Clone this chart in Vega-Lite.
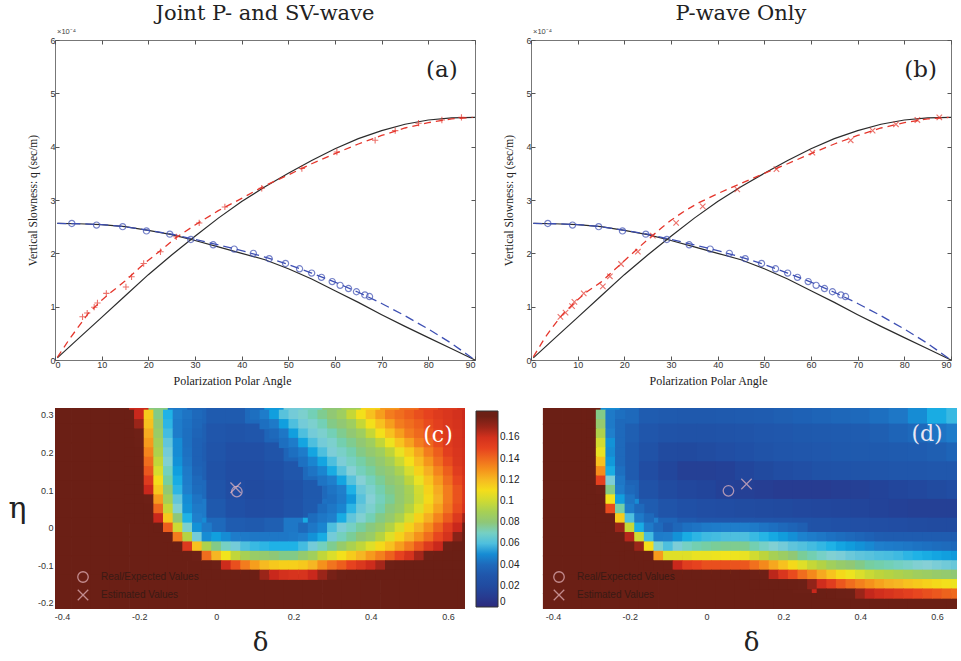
{
"$schema":"https://vega.github.io/schema/vega-lite/v6.json",
"background":"white",
"padding":{"left":8,"top":2,"right":0,"bottom":0},
"config":{
 "font":"Liberation Sans",
 "locale":{"number":{"decimal":".","thousands":",","grouping":[3],"currency":["$",""],"minus":"-"}},
 "axis":{"labelFont":"Liberation Sans","labelFontSize":9,"labelColor":"#333","titleFont":"Liberation Serif","titleFontWeight":"normal","titleColor":"#222","grid":false,"tickColor":"#555"},
 "title":{"font":"DejaVu Serif","fontWeight":"normal","fontSize":21,"color":"#222"}
},
"datasets":{
 "blk":[{"s":"P","x":0.5,"y":0.04},{"s":"P","x":5,"y":0.4},{"s":"P","x":10,"y":0.8},{"s":"P","x":15,"y":1.2},{"s":"P","x":20,"y":1.6},{"s":"P","x":25,"y":1.97},{"s":"P","x":30,"y":2.32},{"s":"P","x":35,"y":2.66},{"s":"P","x":40,"y":2.97},{"s":"P","x":45,"y":3.25},{"s":"P","x":50,"y":3.5},{"s":"P","x":55,"y":3.74},{"s":"P","x":60,"y":3.96},{"s":"P","x":65,"y":4.15},{"s":"P","x":70,"y":4.3},{"s":"P","x":75,"y":4.42},{"s":"P","x":80,"y":4.5},{"s":"P","x":85,"y":4.54},{"s":"P","x":90,"y":4.55},
  {"s":"S","x":0.5,"y":2.56},{"s":"S","x":5,"y":2.555},{"s":"S","x":10,"y":2.54},{"s":"S","x":15,"y":2.5},{"s":"S","x":20,"y":2.43},{"s":"S","x":25,"y":2.35},{"s":"S","x":30,"y":2.24},{"s":"S","x":35,"y":2.12},{"s":"S","x":40,"y":2.0},{"s":"S","x":45,"y":1.88},{"s":"S","x":50,"y":1.71},{"s":"S","x":55,"y":1.52},{"s":"S","x":60,"y":1.3},{"s":"S","x":65,"y":1.08},{"s":"S","x":70,"y":0.85},{"s":"S","x":75,"y":0.63},{"s":"S","x":80,"y":0.42},{"s":"S","x":85,"y":0.21},{"s":"S","x":90,"y":0.0}],
 "sf":[{"x":0.5,"y":2.56},{"x":5,"y":2.555},{"x":10,"y":2.54},{"x":15,"y":2.5},{"x":20,"y":2.43},{"x":25,"y":2.36},{"x":30,"y":2.26},{"x":35,"y":2.16},{"x":40,"y":2.05},{"x":45,"y":1.93},{"x":50,"y":1.79},{"x":55,"y":1.63},{"x":60,"y":1.46},{"x":65,"y":1.27},{"x":70,"y":1.06},{"x":75,"y":0.83},{"x":80,"y":0.58},{"x":85,"y":0.31},{"x":89.5,"y":0.03}],
 "pfa":[{"x":0.5,"y":0.05},{"x":3,"y":0.38},{"x":5,"y":0.62},{"x":7,"y":0.86},{"x":10,"y":1.12},{"x":12,"y":1.27},{"x":15,"y":1.48},{"x":18,"y":1.72},{"x":20,"y":1.87},{"x":23,"y":2.08},{"x":26,"y":2.3},{"x":30,"y":2.53},{"x":35,"y":2.8},{"x":40,"y":3.03},{"x":45,"y":3.27},{"x":50,"y":3.47},{"x":55,"y":3.68},{"x":60,"y":3.87},{"x":65,"y":4.05},{"x":70,"y":4.21},{"x":75,"y":4.35},{"x":80,"y":4.45},{"x":85,"y":4.52},{"x":89.5,"y":4.55}],
 "pfb":[{"x":0.5,"y":0.06},{"x":3,"y":0.42},{"x":5,"y":0.66},{"x":7,"y":0.88},{"x":10,"y":1.13},{"x":12,"y":1.28},{"x":15,"y":1.46},{"x":18,"y":1.7},{"x":20,"y":1.86},{"x":22,"y":2.02},{"x":25,"y":2.26},{"x":28,"y":2.48},{"x":30,"y":2.62},{"x":33,"y":2.8},{"x":36,"y":2.95},{"x":40,"y":3.12},{"x":45,"y":3.31},{"x":50,"y":3.5},{"x":55,"y":3.68},{"x":60,"y":3.87},{"x":65,"y":4.05},{"x":70,"y":4.21},{"x":75,"y":4.35},{"x":80,"y":4.45},{"x":85,"y":4.52},{"x":89.5,"y":4.55}],
 "rpa":[{"x":5.9,"y":0.81},{"x":6.9,"y":0.88},{"x":8.4,"y":0.99},{"x":9.1,"y":1.07},{"x":11,"y":1.25},{"x":15.2,"y":1.37},{"x":16.4,"y":1.56},{"x":19,"y":1.81},{"x":22.6,"y":2.03},{"x":26,"y":2.31},{"x":30.9,"y":2.57},{"x":36.4,"y":2.87},{"x":44.3,"y":3.22},{"x":52.9,"y":3.59},{"x":60.4,"y":3.9},{"x":68.6,"y":4.12},{"x":72.9,"y":4.3},{"x":77.9,"y":4.44},{"x":82.9,"y":4.5},{"x":87.1,"y":4.55}],
 "rpb":[{"x":6.3,"y":0.81},{"x":7.4,"y":0.89},{"x":8.8,"y":1.01},{"x":9.3,"y":1.09},{"x":11.3,"y":1.25},{"x":15.4,"y":1.38},{"x":16.9,"y":1.57},{"x":19.3,"y":1.8},{"x":22.9,"y":2.03},{"x":26.1,"y":2.33},{"x":31.1,"y":2.57},{"x":36.8,"y":2.88},{"x":44.2,"y":3.2},{"x":52.6,"y":3.58},{"x":60.3,"y":3.89},{"x":68.5,"y":4.12},{"x":73.2,"y":4.3},{"x":78.2,"y":4.42},{"x":82.8,"y":4.5},{"x":87.5,"y":4.55}],
 "bc":[{"x":3.6,"y":2.56},{"x":8.9,"y":2.53},{"x":14.5,"y":2.5},{"x":19.6,"y":2.42},{"x":24.6,"y":2.36},{"x":29.1,"y":2.26},{"x":33.9,"y":2.16},{"x":38.4,"y":2.08},{"x":42.5,"y":2.0},{"x":45.9,"y":1.9},{"x":49.4,"y":1.81},{"x":52.4,"y":1.71},{"x":55,"y":1.63},{"x":57.1,"y":1.55},{"x":59.4,"y":1.47},{"x":61.1,"y":1.4},{"x":62.9,"y":1.34},{"x":64.6,"y":1.28},{"x":66.4,"y":1.22},{"x":67.4,"y":1.19}],
 "la":[{"x":82.9,"y":5.44,"t":"(a)"}],
 "lb":[{"x":83.5,"y":5.44,"t":"(b)"}],
 "ex":[{"x":0,"y":6,"t":"×10⁻⁴"}],
 "mc":[{"d":0.053,"e":0.096,"k":"Real/Expected Values"},{"d":0.05,"e":0.106,"k":"Estimated Values"}],
 "md":[{"d":0.057,"e":0.098,"k":"Real/Expected Values"},{"d":0.104,"e":0.116,"k":"Estimated Values"}],
 "lc":[{"d":0.574,"e":0.247,"t":"(c)"}],
 "ld":[{"d":0.574,"e":0.25,"t":"(d)"}],
 "hc":[
{"d":-0.4,"e":0.3,"v":0.185},{"d":-0.35,"e":0.3,"v":0.185},{"d":-0.3,"e":0.3,"v":0.185},{"d":-0.25,"e":0.3,"v":0.185},{"d":-0.2,"e":0.3,"v":0.164},{"d":-0.15,"e":0.3,"v":0.079},{"d":-0.1,"e":0.3,"v":0.046},{"d":-0.05,"e":0.3,"v":0.038},{"d":0,"e":0.3,"v":0.034},{"d":0.05,"e":0.3,"v":0.034},{"d":0.1,"e":0.3,"v":0.04},{"d":0.15,"e":0.3,"v":0.052},{"d":0.2,"e":0.3,"v":0.064},{"d":0.25,"e":0.3,"v":0.07},{"d":0.3,"e":0.3,"v":0.08},{"d":0.35,"e":0.3,"v":0.088},{"d":0.4,"e":0.3,"v":0.112},{"d":0.45,"e":0.3,"v":0.128},{"d":0.5,"e":0.3,"v":0.138},{"d":0.55,"e":0.3,"v":0.148},{"d":0.6,"e":0.3,"v":0.155},{"d":0.65,"e":0.3,"v":0.16},
{"d":-0.4,"e":0.25,"v":0.185},{"d":-0.35,"e":0.25,"v":0.185},{"d":-0.3,"e":0.25,"v":0.185},{"d":-0.25,"e":0.25,"v":0.185},{"d":-0.2,"e":0.25,"v":0.172},{"d":-0.15,"e":0.25,"v":0.085},{"d":-0.1,"e":0.25,"v":0.048},{"d":-0.05,"e":0.25,"v":0.036},{"d":0,"e":0.25,"v":0.03},{"d":0.05,"e":0.25,"v":0.028},{"d":0.1,"e":0.25,"v":0.03},{"d":0.15,"e":0.25,"v":0.038},{"d":0.2,"e":0.25,"v":0.052},{"d":0.25,"e":0.25,"v":0.062},{"d":0.3,"e":0.25,"v":0.07},{"d":0.35,"e":0.25,"v":0.078},{"d":0.4,"e":0.25,"v":0.088},{"d":0.45,"e":0.25,"v":0.11},{"d":0.5,"e":0.25,"v":0.128},{"d":0.55,"e":0.25,"v":0.14},{"d":0.6,"e":0.25,"v":0.15},{"d":0.65,"e":0.25,"v":0.158},
{"d":-0.4,"e":0.2,"v":0.185},{"d":-0.35,"e":0.2,"v":0.185},{"d":-0.3,"e":0.2,"v":0.185},{"d":-0.25,"e":0.2,"v":0.185},{"d":-0.2,"e":0.2,"v":0.18},{"d":-0.15,"e":0.2,"v":0.093},{"d":-0.1,"e":0.2,"v":0.05},{"d":-0.05,"e":0.2,"v":0.035},{"d":0,"e":0.2,"v":0.028},{"d":0.05,"e":0.2,"v":0.024},{"d":0.1,"e":0.2,"v":0.024},{"d":0.15,"e":0.2,"v":0.028},{"d":0.2,"e":0.2,"v":0.038},{"d":0.25,"e":0.2,"v":0.054},{"d":0.3,"e":0.2,"v":0.063},{"d":0.35,"e":0.2,"v":0.07},{"d":0.4,"e":0.2,"v":0.082},{"d":0.45,"e":0.2,"v":0.088},{"d":0.5,"e":0.2,"v":0.113},{"d":0.55,"e":0.2,"v":0.133},{"d":0.6,"e":0.2,"v":0.148},{"d":0.65,"e":0.2,"v":0.158},
{"d":-0.4,"e":0.15,"v":0.185},{"d":-0.35,"e":0.15,"v":0.185},{"d":-0.3,"e":0.15,"v":0.185},{"d":-0.25,"e":0.15,"v":0.185},{"d":-0.2,"e":0.15,"v":0.185},{"d":-0.15,"e":0.15,"v":0.103},{"d":-0.1,"e":0.15,"v":0.052},{"d":-0.05,"e":0.15,"v":0.036},{"d":0,"e":0.15,"v":0.026},{"d":0.05,"e":0.15,"v":0.022},{"d":0.1,"e":0.15,"v":0.022},{"d":0.15,"e":0.15,"v":0.025},{"d":0.2,"e":0.15,"v":0.03},{"d":0.25,"e":0.15,"v":0.04},{"d":0.3,"e":0.15,"v":0.055},{"d":0.35,"e":0.15,"v":0.064},{"d":0.4,"e":0.15,"v":0.072},{"d":0.45,"e":0.15,"v":0.083},{"d":0.5,"e":0.15,"v":0.09},{"d":0.55,"e":0.15,"v":0.118},{"d":0.6,"e":0.15,"v":0.138},{"d":0.65,"e":0.15,"v":0.152},
{"d":-0.4,"e":0.1,"v":0.185},{"d":-0.35,"e":0.1,"v":0.185},{"d":-0.3,"e":0.1,"v":0.185},{"d":-0.25,"e":0.1,"v":0.185},{"d":-0.2,"e":0.1,"v":0.185},{"d":-0.15,"e":0.1,"v":0.117},{"d":-0.1,"e":0.1,"v":0.057},{"d":-0.05,"e":0.1,"v":0.04},{"d":0,"e":0.1,"v":0.028},{"d":0.05,"e":0.1,"v":0.022},{"d":0.1,"e":0.1,"v":0.02},{"d":0.15,"e":0.1,"v":0.022},{"d":0.2,"e":0.1,"v":0.026},{"d":0.25,"e":0.1,"v":0.032},{"d":0.3,"e":0.1,"v":0.04},{"d":0.35,"e":0.1,"v":0.052},{"d":0.4,"e":0.1,"v":0.066},{"d":0.45,"e":0.1,"v":0.075},{"d":0.5,"e":0.1,"v":0.086},{"d":0.55,"e":0.1,"v":0.11},{"d":0.6,"e":0.1,"v":0.135},{"d":0.65,"e":0.1,"v":0.155},
{"d":-0.4,"e":0.05,"v":0.185},{"d":-0.35,"e":0.05,"v":0.185},{"d":-0.3,"e":0.05,"v":0.185},{"d":-0.25,"e":0.05,"v":0.185},{"d":-0.2,"e":0.05,"v":0.185},{"d":-0.15,"e":0.05,"v":0.141},{"d":-0.1,"e":0.05,"v":0.066},{"d":-0.05,"e":0.05,"v":0.046},{"d":0,"e":0.05,"v":0.032},{"d":0.05,"e":0.05,"v":0.025},{"d":0.1,"e":0.05,"v":0.022},{"d":0.15,"e":0.05,"v":0.023},{"d":0.2,"e":0.05,"v":0.027},{"d":0.25,"e":0.05,"v":0.033},{"d":0.3,"e":0.05,"v":0.043},{"d":0.35,"e":0.05,"v":0.055},{"d":0.4,"e":0.05,"v":0.066},{"d":0.45,"e":0.05,"v":0.076},{"d":0.5,"e":0.05,"v":0.087},{"d":0.55,"e":0.05,"v":0.112},{"d":0.6,"e":0.05,"v":0.138},{"d":0.65,"e":0.05,"v":0.158},
{"d":-0.4,"e":0,"v":0.185},{"d":-0.35,"e":0,"v":0.185},{"d":-0.3,"e":0,"v":0.185},{"d":-0.25,"e":0,"v":0.185},{"d":-0.2,"e":0,"v":0.185},{"d":-0.15,"e":0,"v":0.185},{"d":-0.1,"e":0,"v":0.1},{"d":-0.05,"e":0,"v":0.05},{"d":0,"e":0,"v":0.04},{"d":0.05,"e":0,"v":0.035},{"d":0.1,"e":0,"v":0.033},{"d":0.15,"e":0,"v":0.036},{"d":0.2,"e":0,"v":0.045},{"d":0.25,"e":0,"v":0.055},{"d":0.3,"e":0,"v":0.064},{"d":0.35,"e":0,"v":0.075},{"d":0.4,"e":0,"v":0.083},{"d":0.45,"e":0,"v":0.1},{"d":0.5,"e":0,"v":0.113},{"d":0.55,"e":0,"v":0.135},{"d":0.6,"e":0,"v":0.155},{"d":0.65,"e":0,"v":0.175},
{"d":-0.4,"e":-0.05,"v":0.185},{"d":-0.35,"e":-0.05,"v":0.185},{"d":-0.3,"e":-0.05,"v":0.185},{"d":-0.25,"e":-0.05,"v":0.185},{"d":-0.2,"e":-0.05,"v":0.185},{"d":-0.15,"e":-0.05,"v":0.185},{"d":-0.1,"e":-0.05,"v":0.185},{"d":-0.05,"e":-0.05,"v":0.14},{"d":0,"e":-0.05,"v":0.078},{"d":0.05,"e":-0.05,"v":0.065},{"d":0.1,"e":-0.05,"v":0.059},{"d":0.15,"e":-0.05,"v":0.056},{"d":0.2,"e":-0.05,"v":0.057},{"d":0.25,"e":-0.05,"v":0.064},{"d":0.3,"e":-0.05,"v":0.075},{"d":0.35,"e":-0.05,"v":0.09},{"d":0.4,"e":-0.05,"v":0.105},{"d":0.45,"e":-0.05,"v":0.118},{"d":0.5,"e":-0.05,"v":0.135},{"d":0.55,"e":-0.05,"v":0.155},{"d":0.6,"e":-0.05,"v":0.175},{"d":0.65,"e":-0.05,"v":0.185},
{"d":-0.4,"e":-0.1,"v":0.185},{"d":-0.35,"e":-0.1,"v":0.185},{"d":-0.3,"e":-0.1,"v":0.185},{"d":-0.25,"e":-0.1,"v":0.185},{"d":-0.2,"e":-0.1,"v":0.185},{"d":-0.15,"e":-0.1,"v":0.185},{"d":-0.1,"e":-0.1,"v":0.185},{"d":-0.05,"e":-0.1,"v":0.185},{"d":0,"e":-0.1,"v":0.175},{"d":0.05,"e":-0.1,"v":0.15},{"d":0.1,"e":-0.1,"v":0.128},{"d":0.15,"e":-0.1,"v":0.115},{"d":0.2,"e":-0.1,"v":0.113},{"d":0.25,"e":-0.1,"v":0.122},{"d":0.3,"e":-0.1,"v":0.13},{"d":0.35,"e":-0.1,"v":0.14},{"d":0.4,"e":-0.1,"v":0.16},{"d":0.45,"e":-0.1,"v":0.175},{"d":0.5,"e":-0.1,"v":0.185},{"d":0.55,"e":-0.1,"v":0.185},{"d":0.6,"e":-0.1,"v":0.185},{"d":0.65,"e":-0.1,"v":0.185},
{"d":-0.4,"e":-0.15,"v":0.185},{"d":-0.35,"e":-0.15,"v":0.185},{"d":-0.3,"e":-0.15,"v":0.185},{"d":-0.25,"e":-0.15,"v":0.185},{"d":-0.2,"e":-0.15,"v":0.185},{"d":-0.15,"e":-0.15,"v":0.185},{"d":-0.1,"e":-0.15,"v":0.185},{"d":-0.05,"e":-0.15,"v":0.185},{"d":0,"e":-0.15,"v":0.185},{"d":0.05,"e":-0.15,"v":0.185},{"d":0.1,"e":-0.15,"v":0.185},{"d":0.15,"e":-0.15,"v":0.185},{"d":0.2,"e":-0.15,"v":0.185},{"d":0.25,"e":-0.15,"v":0.185},{"d":0.3,"e":-0.15,"v":0.185},{"d":0.35,"e":-0.15,"v":0.185},{"d":0.4,"e":-0.15,"v":0.185},{"d":0.45,"e":-0.15,"v":0.185},{"d":0.5,"e":-0.15,"v":0.185},{"d":0.55,"e":-0.15,"v":0.185},{"d":0.6,"e":-0.15,"v":0.185},{"d":0.65,"e":-0.15,"v":0.185},
{"d":-0.4,"e":-0.2,"v":0.185},{"d":-0.35,"e":-0.2,"v":0.185},{"d":-0.3,"e":-0.2,"v":0.185},{"d":-0.25,"e":-0.2,"v":0.185},{"d":-0.2,"e":-0.2,"v":0.185},{"d":-0.15,"e":-0.2,"v":0.185},{"d":-0.1,"e":-0.2,"v":0.185},{"d":-0.05,"e":-0.2,"v":0.185},{"d":0,"e":-0.2,"v":0.185},{"d":0.05,"e":-0.2,"v":0.185},{"d":0.1,"e":-0.2,"v":0.185},{"d":0.15,"e":-0.2,"v":0.185},{"d":0.2,"e":-0.2,"v":0.185},{"d":0.25,"e":-0.2,"v":0.185},{"d":0.3,"e":-0.2,"v":0.185},{"d":0.35,"e":-0.2,"v":0.185},{"d":0.4,"e":-0.2,"v":0.185},{"d":0.45,"e":-0.2,"v":0.185},{"d":0.5,"e":-0.2,"v":0.185},{"d":0.55,"e":-0.2,"v":0.185},{"d":0.6,"e":-0.2,"v":0.185},{"d":0.65,"e":-0.2,"v":0.185}
 ],
 "fc":[
{"d":-0.225,"e":0.3,"v":0.185},{"d":-0.2,"e":0.3,"v":0.165},{"d":-0.175,"e":0.3,"v":0.115},{"d":-0.15,"e":0.3,"v":0.078},{"d":-0.125,"e":0.3,"v":0.056},{"d":-0.1,"e":0.3,"v":0.048},{"d":-0.075,"e":0.3,"v":0.044},{"d":-0.05,"e":0.3,"v":0.04},
{"d":-0.225,"e":0.275,"v":0.185},{"d":-0.2,"e":0.275,"v":0.17},{"d":-0.175,"e":0.275,"v":0.118},{"d":-0.15,"e":0.275,"v":0.081},{"d":-0.125,"e":0.275,"v":0.057},{"d":-0.1,"e":0.275,"v":0.047},{"d":-0.075,"e":0.275,"v":0.043},{"d":-0.05,"e":0.275,"v":0.039},
{"d":-0.225,"e":0.25,"v":0.185},{"d":-0.2,"e":0.25,"v":0.175},{"d":-0.175,"e":0.25,"v":0.124},{"d":-0.15,"e":0.25,"v":0.085},{"d":-0.125,"e":0.25,"v":0.059},{"d":-0.1,"e":0.25,"v":0.047},{"d":-0.075,"e":0.25,"v":0.042},{"d":-0.05,"e":0.25,"v":0.038},
{"d":-0.225,"e":0.225,"v":0.185},{"d":-0.2,"e":0.225,"v":0.178},{"d":-0.175,"e":0.225,"v":0.128},{"d":-0.15,"e":0.225,"v":0.089},{"d":-0.125,"e":0.225,"v":0.062},{"d":-0.1,"e":0.225,"v":0.05},{"d":-0.075,"e":0.225,"v":0.042},{"d":-0.05,"e":0.225,"v":0.037},
{"d":-0.225,"e":0.2,"v":0.185},{"d":-0.2,"e":0.2,"v":0.18},{"d":-0.175,"e":0.2,"v":0.133},{"d":-0.15,"e":0.2,"v":0.092},{"d":-0.125,"e":0.2,"v":0.064},{"d":-0.1,"e":0.2,"v":0.05},{"d":-0.075,"e":0.2,"v":0.043},{"d":-0.05,"e":0.2,"v":0.037},
{"d":-0.225,"e":0.175,"v":0.185},{"d":-0.2,"e":0.175,"v":0.182},{"d":-0.175,"e":0.175,"v":0.139},{"d":-0.15,"e":0.175,"v":0.097},{"d":-0.125,"e":0.175,"v":0.067},{"d":-0.1,"e":0.175,"v":0.051},{"d":-0.075,"e":0.175,"v":0.044},{"d":-0.05,"e":0.175,"v":0.037},
{"d":-0.225,"e":0.15,"v":0.185},{"d":-0.2,"e":0.15,"v":0.185},{"d":-0.175,"e":0.15,"v":0.145},{"d":-0.15,"e":0.15,"v":0.102},{"d":-0.125,"e":0.15,"v":0.071},{"d":-0.1,"e":0.15,"v":0.053},{"d":-0.075,"e":0.15,"v":0.046},{"d":-0.05,"e":0.15,"v":0.038},
{"d":-0.225,"e":0.125,"v":0.185},{"d":-0.2,"e":0.125,"v":0.185},{"d":-0.175,"e":0.125,"v":0.154},{"d":-0.15,"e":0.125,"v":0.11},{"d":-0.125,"e":0.125,"v":0.075},{"d":-0.1,"e":0.125,"v":0.055},{"d":-0.075,"e":0.125,"v":0.047},{"d":-0.05,"e":0.125,"v":0.04},
{"d":-0.225,"e":0.1,"v":0.185},{"d":-0.2,"e":0.1,"v":0.185},{"d":-0.175,"e":0.1,"v":0.165},{"d":-0.15,"e":0.1,"v":0.116},{"d":-0.125,"e":0.1,"v":0.081},{"d":-0.1,"e":0.1,"v":0.057},{"d":-0.075,"e":0.1,"v":0.048},{"d":-0.05,"e":0.1,"v":0.041},
{"d":-0.225,"e":0.075,"v":0.185},{"d":-0.2,"e":0.075,"v":0.185},{"d":-0.175,"e":0.075,"v":0.178},{"d":-0.15,"e":0.075,"v":0.128},{"d":-0.125,"e":0.075,"v":0.089},{"d":-0.1,"e":0.075,"v":0.062},{"d":-0.075,"e":0.075,"v":0.05},{"d":-0.05,"e":0.075,"v":0.044},
{"d":-0.225,"e":0.05,"v":0.185},{"d":-0.2,"e":0.05,"v":0.185},{"d":-0.175,"e":0.05,"v":0.185},{"d":-0.15,"e":0.05,"v":0.141},{"d":-0.125,"e":0.05,"v":0.098},{"d":-0.1,"e":0.05,"v":0.067},{"d":-0.075,"e":0.05,"v":0.051},{"d":-0.05,"e":0.05,"v":0.046},
{"d":-0.225,"e":0.025,"v":0.185},{"d":-0.2,"e":0.025,"v":0.185},{"d":-0.175,"e":0.025,"v":0.185},{"d":-0.15,"e":0.025,"v":0.165},{"d":-0.125,"e":0.025,"v":0.116},{"d":-0.1,"e":0.025,"v":0.08},{"d":-0.075,"e":0.025,"v":0.056},{"d":-0.05,"e":0.025,"v":0.048},
{"d":-0.15,"e":0,"v":0.185},{"d":-0.125,"e":0,"v":0.143},{"d":-0.1,"e":0,"v":0.1},{"d":-0.075,"e":0,"v":0.068},{"d":-0.05,"e":0,"v":0.051},{"d":-0.025,"e":0,"v":0.046},
{"d":-0.125,"e":-0.025,"v":0.185},{"d":-0.1,"e":-0.025,"v":0.135},{"d":-0.075,"e":-0.025,"v":0.094},{"d":-0.05,"e":-0.025,"v":0.064},{"d":-0.025,"e":-0.025,"v":0.05},{"d":0,"e":-0.025,"v":0.053},{"d":0.025,"e":-0.025,"v":0.05},{"d":0.05,"e":-0.025,"v":0.047},{"d":0.075,"e":-0.025,"v":0.046},{"d":0.1,"e":-0.025,"v":0.045},{"d":0.125,"e":-0.025,"v":0.045},{"d":0.15,"e":-0.025,"v":0.045},{"d":0.175,"e":-0.025,"v":0.045},{"d":0.2,"e":-0.025,"v":0.046},{"d":0.225,"e":-0.025,"v":0.048},{"d":0.25,"e":-0.025,"v":0.051},{"d":0.275,"e":-0.025,"v":0.055},
{"d":-0.1,"e":-0.05,"v":0.185},{"d":-0.075,"e":-0.05,"v":0.155},{"d":-0.05,"e":-0.05,"v":0.118},{"d":-0.025,"e":-0.05,"v":0.092},{"d":0,"e":-0.05,"v":0.078},{"d":0.025,"e":-0.05,"v":0.07},{"d":0.05,"e":-0.05,"v":0.064},{"d":0.075,"e":-0.05,"v":0.06},{"d":0.1,"e":-0.05,"v":0.058},{"d":0.125,"e":-0.05,"v":0.057},{"d":0.15,"e":-0.05,"v":0.056},{"d":0.175,"e":-0.05,"v":0.056},{"d":0.2,"e":-0.05,"v":0.056},{"d":0.225,"e":-0.05,"v":0.059},{"d":0.25,"e":-0.05,"v":0.064},{"d":0.275,"e":-0.05,"v":0.071},
{"d":-0.075,"e":-0.075,"v":0.185},{"d":-0.05,"e":-0.075,"v":0.178},{"d":-0.025,"e":-0.075,"v":0.139},{"d":0,"e":-0.075,"v":0.121},{"d":0.025,"e":-0.075,"v":0.108},{"d":0.05,"e":-0.075,"v":0.097},{"d":0.075,"e":-0.075,"v":0.09},{"d":0.1,"e":-0.075,"v":0.085},{"d":0.125,"e":-0.075,"v":0.083},{"d":0.15,"e":-0.075,"v":0.08},{"d":0.175,"e":-0.075,"v":0.078},{"d":0.2,"e":-0.075,"v":0.078},{"d":0.225,"e":-0.075,"v":0.083},{"d":0.25,"e":-0.075,"v":0.088},{"d":0.275,"e":-0.075,"v":0.097},
{"d":-0.025,"e":-0.1,"v":0.185},{"d":0,"e":-0.1,"v":0.178},{"d":0.025,"e":-0.1,"v":0.163},{"d":0.05,"e":-0.1,"v":0.147},{"d":0.075,"e":-0.1,"v":0.135},{"d":0.1,"e":-0.1,"v":0.127},{"d":0.125,"e":-0.1,"v":0.12},{"d":0.15,"e":-0.1,"v":0.116},{"d":0.175,"e":-0.1,"v":0.114},{"d":0.2,"e":-0.1,"v":0.114},{"d":0.225,"e":-0.1,"v":0.116},{"d":0.25,"e":-0.1,"v":0.121},{"d":0.275,"e":-0.1,"v":0.13},
{"d":-0.025,"e":-0.125,"v":0.185},{"d":0,"e":-0.125,"v":0.185},{"d":0.025,"e":-0.125,"v":0.185},{"d":0.05,"e":-0.125,"v":0.185},{"d":0.075,"e":-0.125,"v":0.185},{"d":0.1,"e":-0.125,"v":0.18},{"d":0.125,"e":-0.125,"v":0.17},{"d":0.15,"e":-0.125,"v":0.165},{"d":0.175,"e":-0.125,"v":0.16},{"d":0.2,"e":-0.125,"v":0.158},{"d":0.225,"e":-0.125,"v":0.158},{"d":0.25,"e":-0.125,"v":0.165},{"d":0.275,"e":-0.125,"v":0.17},
{"d":0.1,"e":0.3,"v":0.042},{"d":0.125,"e":0.3,"v":0.047},{"d":0.15,"e":0.3,"v":0.053},{"d":0.175,"e":0.3,"v":0.061},{"d":0.2,"e":0.3,"v":0.064},{"d":0.225,"e":0.3,"v":0.068},{"d":0.25,"e":0.3,"v":0.072},{"d":0.275,"e":0.3,"v":0.077},{"d":0.3,"e":0.3,"v":0.081},{"d":0.325,"e":0.3,"v":0.087},{"d":0.35,"e":0.3,"v":0.098},{"d":0.375,"e":0.3,"v":0.109},{"d":0.4,"e":0.3,"v":0.118},{"d":0.425,"e":0.3,"v":0.127},{"d":0.45,"e":0.3,"v":0.135},{"d":0.475,"e":0.3,"v":0.139},{"d":0.5,"e":0.3,"v":0.143},{"d":0.525,"e":0.3,"v":0.147},{"d":0.55,"e":0.3,"v":0.15},{"d":0.575,"e":0.3,"v":0.154},{"d":0.6,"e":0.3,"v":0.157},{"d":0.625,"e":0.3,"v":0.16},{"d":0.65,"e":0.3,"v":0.164},
{"d":0.125,"e":0.275,"v":0.042},{"d":0.15,"e":0.275,"v":0.046},{"d":0.175,"e":0.275,"v":0.053},{"d":0.2,"e":0.275,"v":0.06},{"d":0.225,"e":0.275,"v":0.064},{"d":0.25,"e":0.275,"v":0.068},{"d":0.275,"e":0.275,"v":0.072},{"d":0.3,"e":0.275,"v":0.078},{"d":0.325,"e":0.275,"v":0.081},{"d":0.35,"e":0.275,"v":0.087},{"d":0.375,"e":0.275,"v":0.098},{"d":0.4,"e":0.275,"v":0.109},{"d":0.425,"e":0.275,"v":0.118},{"d":0.45,"e":0.275,"v":0.127},{"d":0.475,"e":0.275,"v":0.135},{"d":0.5,"e":0.275,"v":0.139},{"d":0.525,"e":0.275,"v":0.143},{"d":0.55,"e":0.275,"v":0.148},{"d":0.575,"e":0.275,"v":0.152},{"d":0.6,"e":0.275,"v":0.156},{"d":0.625,"e":0.275,"v":0.159},{"d":0.65,"e":0.275,"v":0.163},
{"d":0.15,"e":0.25,"v":0.04},{"d":0.175,"e":0.25,"v":0.045},{"d":0.2,"e":0.25,"v":0.053},{"d":0.225,"e":0.25,"v":0.06},{"d":0.25,"e":0.25,"v":0.064},{"d":0.275,"e":0.25,"v":0.068},{"d":0.3,"e":0.25,"v":0.072},{"d":0.325,"e":0.25,"v":0.077},{"d":0.35,"e":0.25,"v":0.081},{"d":0.375,"e":0.25,"v":0.087},{"d":0.4,"e":0.25,"v":0.098},{"d":0.425,"e":0.25,"v":0.109},{"d":0.45,"e":0.25,"v":0.118},{"d":0.475,"e":0.25,"v":0.127},{"d":0.5,"e":0.25,"v":0.135},{"d":0.525,"e":0.25,"v":0.14},{"d":0.55,"e":0.25,"v":0.145},{"d":0.575,"e":0.25,"v":0.15},{"d":0.6,"e":0.25,"v":0.155},{"d":0.625,"e":0.25,"v":0.158},{"d":0.65,"e":0.25,"v":0.162},
{"d":0.175,"e":0.225,"v":0.042},{"d":0.2,"e":0.225,"v":0.047},{"d":0.225,"e":0.225,"v":0.054},{"d":0.25,"e":0.225,"v":0.06},{"d":0.275,"e":0.225,"v":0.064},{"d":0.3,"e":0.225,"v":0.068},{"d":0.325,"e":0.225,"v":0.073},{"d":0.35,"e":0.225,"v":0.077},{"d":0.375,"e":0.225,"v":0.081},{"d":0.4,"e":0.225,"v":0.087},{"d":0.425,"e":0.225,"v":0.097},{"d":0.45,"e":0.225,"v":0.107},{"d":0.475,"e":0.225,"v":0.117},{"d":0.5,"e":0.225,"v":0.126},{"d":0.525,"e":0.225,"v":0.135},{"d":0.55,"e":0.225,"v":0.141},{"d":0.575,"e":0.225,"v":0.148},{"d":0.6,"e":0.225,"v":0.154},{"d":0.625,"e":0.225,"v":0.158},{"d":0.65,"e":0.225,"v":0.161},
{"d":0.2,"e":0.2,"v":0.042},{"d":0.225,"e":0.2,"v":0.047},{"d":0.25,"e":0.2,"v":0.054},{"d":0.275,"e":0.2,"v":0.06},{"d":0.3,"e":0.2,"v":0.065},{"d":0.325,"e":0.2,"v":0.069},{"d":0.35,"e":0.2,"v":0.073},{"d":0.375,"e":0.2,"v":0.078},{"d":0.4,"e":0.2,"v":0.082},{"d":0.425,"e":0.2,"v":0.087},{"d":0.45,"e":0.2,"v":0.096},{"d":0.475,"e":0.2,"v":0.106},{"d":0.5,"e":0.2,"v":0.115},{"d":0.525,"e":0.2,"v":0.125},{"d":0.55,"e":0.2,"v":0.135},{"d":0.575,"e":0.2,"v":0.143},{"d":0.6,"e":0.2,"v":0.152},{"d":0.625,"e":0.2,"v":0.157},{"d":0.65,"e":0.2,"v":0.16},
{"d":0.225,"e":0.175,"v":0.043},{"d":0.25,"e":0.175,"v":0.049},{"d":0.275,"e":0.175,"v":0.054},{"d":0.3,"e":0.175,"v":0.06},{"d":0.325,"e":0.175,"v":0.065},{"d":0.35,"e":0.175,"v":0.07},{"d":0.375,"e":0.175,"v":0.074},{"d":0.4,"e":0.175,"v":0.078},{"d":0.425,"e":0.175,"v":0.082},{"d":0.45,"e":0.175,"v":0.089},{"d":0.475,"e":0.175,"v":0.099},{"d":0.5,"e":0.175,"v":0.109},{"d":0.525,"e":0.175,"v":0.119},{"d":0.55,"e":0.175,"v":0.129},{"d":0.575,"e":0.175,"v":0.139},{"d":0.6,"e":0.175,"v":0.148},{"d":0.625,"e":0.175,"v":0.156},{"d":0.65,"e":0.175,"v":0.16},
{"d":0.25,"e":0.15,"v":0.044},{"d":0.275,"e":0.15,"v":0.049},{"d":0.3,"e":0.15,"v":0.055},{"d":0.325,"e":0.15,"v":0.061},{"d":0.35,"e":0.15,"v":0.066},{"d":0.375,"e":0.15,"v":0.071},{"d":0.4,"e":0.15,"v":0.075},{"d":0.425,"e":0.15,"v":0.079},{"d":0.45,"e":0.15,"v":0.083},{"d":0.475,"e":0.15,"v":0.091},{"d":0.5,"e":0.15,"v":0.102},{"d":0.525,"e":0.15,"v":0.113},{"d":0.55,"e":0.15,"v":0.123},{"d":0.575,"e":0.15,"v":0.133},{"d":0.6,"e":0.15,"v":0.143},{"d":0.625,"e":0.15,"v":0.153},{"d":0.65,"e":0.15,"v":0.159},
{"d":0.275,"e":0.125,"v":0.044},{"d":0.3,"e":0.125,"v":0.048},{"d":0.325,"e":0.125,"v":0.054},{"d":0.35,"e":0.125,"v":0.061},{"d":0.375,"e":0.125,"v":0.066},{"d":0.4,"e":0.125,"v":0.071},{"d":0.425,"e":0.125,"v":0.076},{"d":0.45,"e":0.125,"v":0.08},{"d":0.475,"e":0.125,"v":0.085},{"d":0.5,"e":0.125,"v":0.096},{"d":0.525,"e":0.125,"v":0.106},{"d":0.55,"e":0.125,"v":0.117},{"d":0.575,"e":0.125,"v":0.128},{"d":0.6,"e":0.125,"v":0.139},{"d":0.625,"e":0.125,"v":0.149},{"d":0.65,"e":0.125,"v":0.157},
{"d":0.3,"e":0.1,"v":0.044},{"d":0.325,"e":0.1,"v":0.048},{"d":0.35,"e":0.1,"v":0.056},{"d":0.375,"e":0.1,"v":0.063},{"d":0.4,"e":0.1,"v":0.068},{"d":0.425,"e":0.1,"v":0.073},{"d":0.45,"e":0.1,"v":0.078},{"d":0.475,"e":0.1,"v":0.082},{"d":0.5,"e":0.1,"v":0.09},{"d":0.525,"e":0.1,"v":0.101},{"d":0.55,"e":0.1,"v":0.113},{"d":0.575,"e":0.1,"v":0.124},{"d":0.6,"e":0.1,"v":0.135},{"d":0.625,"e":0.1,"v":0.146},{"d":0.65,"e":0.1,"v":0.156},
{"d":0.3,"e":0.075,"v":0.042},{"d":0.325,"e":0.075,"v":0.047},{"d":0.35,"e":0.075,"v":0.052},{"d":0.375,"e":0.075,"v":0.061},{"d":0.4,"e":0.075,"v":0.066},{"d":0.425,"e":0.075,"v":0.071},{"d":0.45,"e":0.075,"v":0.076},{"d":0.475,"e":0.075,"v":0.082},{"d":0.5,"e":0.075,"v":0.089},{"d":0.525,"e":0.075,"v":0.1},{"d":0.55,"e":0.075,"v":0.111},{"d":0.575,"e":0.075,"v":0.122},{"d":0.6,"e":0.075,"v":0.135},{"d":0.625,"e":0.075,"v":0.146},{"d":0.65,"e":0.075,"v":0.156},
{"d":0.275,"e":0.05,"v":0.041},{"d":0.3,"e":0.05,"v":0.045},{"d":0.325,"e":0.05,"v":0.049},{"d":0.35,"e":0.05,"v":0.057},{"d":0.375,"e":0.05,"v":0.063},{"d":0.4,"e":0.05,"v":0.068},{"d":0.425,"e":0.05,"v":0.073},{"d":0.45,"e":0.05,"v":0.079},{"d":0.475,"e":0.05,"v":0.084},{"d":0.5,"e":0.05,"v":0.094},{"d":0.525,"e":0.05,"v":0.104},{"d":0.55,"e":0.05,"v":0.115},{"d":0.575,"e":0.05,"v":0.126},{"d":0.6,"e":0.05,"v":0.137},{"d":0.625,"e":0.05,"v":0.148},{"d":0.65,"e":0.05,"v":0.158},
{"d":0.25,"e":0.025,"v":0.041},{"d":0.275,"e":0.025,"v":0.045},{"d":0.3,"e":0.025,"v":0.048},{"d":0.325,"e":0.025,"v":0.055},{"d":0.35,"e":0.025,"v":0.062},{"d":0.375,"e":0.025,"v":0.067},{"d":0.4,"e":0.025,"v":0.072},{"d":0.425,"e":0.025,"v":0.078},{"d":0.45,"e":0.025,"v":0.083},{"d":0.475,"e":0.025,"v":0.091},{"d":0.5,"e":0.025,"v":0.102},{"d":0.525,"e":0.025,"v":0.113},{"d":0.55,"e":0.025,"v":0.123},{"d":0.575,"e":0.025,"v":0.133},{"d":0.6,"e":0.025,"v":0.144},{"d":0.625,"e":0.025,"v":0.155},{"d":0.65,"e":0.025,"v":0.169},
{"d":0.225,"e":0,"v":0.04},{"d":0.25,"e":0,"v":0.045},{"d":0.275,"e":0,"v":0.049},{"d":0.3,"e":0,"v":0.06},{"d":0.325,"e":0,"v":0.065},{"d":0.35,"e":0,"v":0.07},{"d":0.375,"e":0,"v":0.075},{"d":0.4,"e":0,"v":0.079},{"d":0.425,"e":0,"v":0.084},{"d":0.45,"e":0,"v":0.093},{"d":0.475,"e":0,"v":0.103},{"d":0.5,"e":0,"v":0.113},{"d":0.525,"e":0,"v":0.122},{"d":0.55,"e":0,"v":0.131},{"d":0.575,"e":0,"v":0.142},{"d":0.6,"e":0,"v":0.153},{"d":0.625,"e":0,"v":0.165},{"d":0.65,"e":0,"v":0.177},
{"d":0.3,"e":-0.025,"v":0.064},{"d":0.325,"e":-0.025,"v":0.071},{"d":0.35,"e":-0.025,"v":0.076},{"d":0.375,"e":-0.025,"v":0.08},{"d":0.4,"e":-0.025,"v":0.085},{"d":0.425,"e":-0.025,"v":0.094},{"d":0.45,"e":-0.025,"v":0.104},{"d":0.475,"e":-0.025,"v":0.113},{"d":0.5,"e":-0.025,"v":0.122},{"d":0.525,"e":-0.025,"v":0.13},{"d":0.55,"e":-0.025,"v":0.139},{"d":0.575,"e":-0.025,"v":0.149},{"d":0.6,"e":-0.025,"v":0.159},{"d":0.625,"e":-0.025,"v":0.172},{"d":0.65,"e":-0.025,"v":0.185},
{"d":0.3,"e":-0.05,"v":0.077},{"d":0.325,"e":-0.05,"v":0.084},{"d":0.35,"e":-0.05,"v":0.091},{"d":0.375,"e":-0.05,"v":0.097},{"d":0.4,"e":-0.05,"v":0.104},{"d":0.425,"e":-0.05,"v":0.111},{"d":0.45,"e":-0.05,"v":0.118},{"d":0.475,"e":-0.05,"v":0.127},{"d":0.5,"e":-0.05,"v":0.135},{"d":0.525,"e":-0.05,"v":0.145},{"d":0.55,"e":-0.05,"v":0.155},{"d":0.575,"e":-0.05,"v":0.165},{"d":0.6,"e":-0.05,"v":0.175},{"d":0.625,"e":-0.05,"v":0.182},{"d":0.65,"e":-0.05,"v":0.185},
{"d":0.3,"e":-0.075,"v":0.103},{"d":0.325,"e":-0.075,"v":0.109},{"d":0.35,"e":-0.075,"v":0.115},{"d":0.375,"e":-0.075,"v":0.121},{"d":0.4,"e":-0.075,"v":0.128},{"d":0.425,"e":-0.075,"v":0.134},{"d":0.45,"e":-0.075,"v":0.142},{"d":0.475,"e":-0.075,"v":0.15},{"d":0.5,"e":-0.075,"v":0.159},{"d":0.525,"e":-0.075,"v":0.169},{"d":0.55,"e":-0.075,"v":0.178},{"d":0.575,"e":-0.075,"v":0.183},{"d":0.6,"e":-0.075,"v":0.185},{"d":0.625,"e":-0.075,"v":0.185},{"d":0.65,"e":-0.075,"v":0.185},
{"d":0.3,"e":-0.1,"v":0.137},{"d":0.325,"e":-0.1,"v":0.143},{"d":0.35,"e":-0.1,"v":0.15},{"d":0.375,"e":-0.1,"v":0.156},{"d":0.4,"e":-0.1,"v":0.163},{"d":0.425,"e":-0.1,"v":0.169},{"d":0.45,"e":-0.1,"v":0.175},{"d":0.475,"e":-0.1,"v":0.18},{"d":0.5,"e":-0.1,"v":0.185},{"d":0.525,"e":-0.1,"v":0.185},{"d":0.55,"e":-0.1,"v":0.185},{"d":0.575,"e":-0.1,"v":0.185},{"d":0.6,"e":-0.1,"v":0.185},{"d":0.625,"e":-0.1,"v":0.185},{"d":0.65,"e":-0.1,"v":0.185},
{"d":0.3,"e":-0.125,"v":0.174},{"d":0.325,"e":-0.125,"v":0.177},{"d":0.35,"e":-0.125,"v":0.18},{"d":0.375,"e":-0.125,"v":0.183},{"d":0.4,"e":-0.125,"v":0.185},{"d":0.425,"e":-0.125,"v":0.185},{"d":0.45,"e":-0.125,"v":0.185},{"d":0.475,"e":-0.125,"v":0.185},{"d":0.5,"e":-0.125,"v":0.185},{"d":0.525,"e":-0.125,"v":0.185},{"d":0.55,"e":-0.125,"v":0.185},{"d":0.575,"e":-0.125,"v":0.185},{"d":0.6,"e":-0.125,"v":0.185},{"d":0.625,"e":-0.125,"v":0.185},{"d":0.65,"e":-0.125,"v":0.185}
 ],
 "hd":[
{"d":-0.4,"e":0.3,"v":0.185},{"d":-0.35,"e":0.3,"v":0.185},{"d":-0.3,"e":0.3,"v":0.18},{"d":-0.25,"e":0.3,"v":0.05},{"d":-0.2,"e":0.3,"v":0.04},{"d":-0.15,"e":0.3,"v":0.035},{"d":-0.1,"e":0.3,"v":0.033},{"d":-0.05,"e":0.3,"v":0.032},{"d":0,"e":0.3,"v":0.032},{"d":0.05,"e":0.3,"v":0.033},{"d":0.1,"e":0.3,"v":0.034},{"d":0.15,"e":0.3,"v":0.035},{"d":0.2,"e":0.3,"v":0.036},{"d":0.25,"e":0.3,"v":0.037},{"d":0.3,"e":0.3,"v":0.038},{"d":0.35,"e":0.3,"v":0.039},{"d":0.4,"e":0.3,"v":0.04},{"d":0.45,"e":0.3,"v":0.042},{"d":0.5,"e":0.3,"v":0.045},{"d":0.55,"e":0.3,"v":0.05},{"d":0.6,"e":0.3,"v":0.055},{"d":0.65,"e":0.3,"v":0.058},
{"d":-0.4,"e":0.25,"v":0.185},{"d":-0.35,"e":0.25,"v":0.185},{"d":-0.3,"e":0.25,"v":0.185},{"d":-0.25,"e":0.25,"v":0.048},{"d":-0.2,"e":0.25,"v":0.036},{"d":-0.15,"e":0.25,"v":0.03},{"d":-0.1,"e":0.25,"v":0.027},{"d":-0.05,"e":0.25,"v":0.026},{"d":0,"e":0.25,"v":0.026},{"d":0.05,"e":0.25,"v":0.027},{"d":0.1,"e":0.25,"v":0.028},{"d":0.15,"e":0.25,"v":0.03},{"d":0.2,"e":0.25,"v":0.031},{"d":0.25,"e":0.25,"v":0.032},{"d":0.3,"e":0.25,"v":0.033},{"d":0.35,"e":0.25,"v":0.034},{"d":0.4,"e":0.25,"v":0.035},{"d":0.45,"e":0.25,"v":0.036},{"d":0.5,"e":0.25,"v":0.038},{"d":0.55,"e":0.25,"v":0.04},{"d":0.6,"e":0.25,"v":0.044},{"d":0.65,"e":0.25,"v":0.047},
{"d":-0.4,"e":0.2,"v":0.185},{"d":-0.35,"e":0.2,"v":0.185},{"d":-0.3,"e":0.2,"v":0.185},{"d":-0.25,"e":0.2,"v":0.052},{"d":-0.2,"e":0.2,"v":0.034},{"d":-0.15,"e":0.2,"v":0.026},{"d":-0.1,"e":0.2,"v":0.02},{"d":-0.05,"e":0.2,"v":0.019},{"d":0,"e":0.2,"v":0.021},{"d":0.05,"e":0.2,"v":0.023},{"d":0.1,"e":0.2,"v":0.025},{"d":0.15,"e":0.2,"v":0.027},{"d":0.2,"e":0.2,"v":0.029},{"d":0.25,"e":0.2,"v":0.03},{"d":0.3,"e":0.2,"v":0.031},{"d":0.35,"e":0.2,"v":0.032},{"d":0.4,"e":0.2,"v":0.033},{"d":0.45,"e":0.2,"v":0.033},{"d":0.5,"e":0.2,"v":0.034},{"d":0.55,"e":0.2,"v":0.035},{"d":0.6,"e":0.2,"v":0.036},{"d":0.65,"e":0.2,"v":0.038},
{"d":-0.4,"e":0.15,"v":0.185},{"d":-0.35,"e":0.15,"v":0.185},{"d":-0.3,"e":0.15,"v":0.185},{"d":-0.25,"e":0.15,"v":0.053},{"d":-0.2,"e":0.15,"v":0.034},{"d":-0.15,"e":0.15,"v":0.022},{"d":-0.1,"e":0.15,"v":0.016},{"d":-0.05,"e":0.15,"v":0.012},{"d":0,"e":0.15,"v":0.012},{"d":0.05,"e":0.15,"v":0.013},{"d":0.1,"e":0.15,"v":0.016},{"d":0.15,"e":0.15,"v":0.019},{"d":0.2,"e":0.15,"v":0.022},{"d":0.25,"e":0.15,"v":0.024},{"d":0.3,"e":0.15,"v":0.026},{"d":0.35,"e":0.15,"v":0.027},{"d":0.4,"e":0.15,"v":0.028},{"d":0.45,"e":0.15,"v":0.029},{"d":0.5,"e":0.15,"v":0.03},{"d":0.55,"e":0.15,"v":0.03},{"d":0.6,"e":0.15,"v":0.031},{"d":0.65,"e":0.15,"v":0.031},
{"d":-0.4,"e":0.1,"v":0.185},{"d":-0.35,"e":0.1,"v":0.185},{"d":-0.3,"e":0.1,"v":0.185},{"d":-0.25,"e":0.1,"v":0.079},{"d":-0.2,"e":0.1,"v":0.038},{"d":-0.15,"e":0.1,"v":0.026},{"d":-0.1,"e":0.1,"v":0.02},{"d":-0.05,"e":0.1,"v":0.017},{"d":0,"e":0.1,"v":0.015},{"d":0.05,"e":0.1,"v":0.013},{"d":0.1,"e":0.1,"v":0.012},{"d":0.15,"e":0.1,"v":0.011},{"d":0.2,"e":0.1,"v":0.01},{"d":0.25,"e":0.1,"v":0.01},{"d":0.3,"e":0.1,"v":0.01},{"d":0.35,"e":0.1,"v":0.011},{"d":0.4,"e":0.1,"v":0.012},{"d":0.45,"e":0.1,"v":0.014},{"d":0.5,"e":0.1,"v":0.016},{"d":0.55,"e":0.1,"v":0.018},{"d":0.6,"e":0.1,"v":0.02},{"d":0.65,"e":0.1,"v":0.022},
{"d":-0.4,"e":0.05,"v":0.185},{"d":-0.35,"e":0.05,"v":0.185},{"d":-0.3,"e":0.05,"v":0.185},{"d":-0.25,"e":0.05,"v":0.149},{"d":-0.2,"e":0.05,"v":0.05},{"d":-0.15,"e":0.05,"v":0.035},{"d":-0.1,"e":0.05,"v":0.028},{"d":-0.05,"e":0.05,"v":0.025},{"d":0,"e":0.05,"v":0.023},{"d":0.05,"e":0.05,"v":0.022},{"d":0.1,"e":0.05,"v":0.021},{"d":0.15,"e":0.05,"v":0.02},{"d":0.2,"e":0.05,"v":0.019},{"d":0.25,"e":0.05,"v":0.018},{"d":0.3,"e":0.05,"v":0.017},{"d":0.35,"e":0.05,"v":0.016},{"d":0.4,"e":0.05,"v":0.015},{"d":0.45,"e":0.05,"v":0.014},{"d":0.5,"e":0.05,"v":0.013},{"d":0.55,"e":0.05,"v":0.012},{"d":0.6,"e":0.05,"v":0.012},{"d":0.65,"e":0.05,"v":0.012},
{"d":-0.4,"e":0,"v":0.185},{"d":-0.35,"e":0,"v":0.185},{"d":-0.3,"e":0,"v":0.185},{"d":-0.25,"e":0,"v":0.185},{"d":-0.2,"e":0,"v":0.098},{"d":-0.15,"e":0,"v":0.048},{"d":-0.1,"e":0,"v":0.038},{"d":-0.05,"e":0,"v":0.033},{"d":0,"e":0,"v":0.03},{"d":0.05,"e":0,"v":0.03},{"d":0.1,"e":0,"v":0.03},{"d":0.15,"e":0,"v":0.029},{"d":0.2,"e":0,"v":0.028},{"d":0.25,"e":0,"v":0.027},{"d":0.3,"e":0,"v":0.026},{"d":0.35,"e":0,"v":0.025},{"d":0.4,"e":0,"v":0.024},{"d":0.45,"e":0,"v":0.023},{"d":0.5,"e":0,"v":0.022},{"d":0.55,"e":0,"v":0.021},{"d":0.6,"e":0,"v":0.02},{"d":0.65,"e":0,"v":0.02},
{"d":-0.4,"e":-0.05,"v":0.185},{"d":-0.35,"e":-0.05,"v":0.185},{"d":-0.3,"e":-0.05,"v":0.185},{"d":-0.25,"e":-0.05,"v":0.185},{"d":-0.2,"e":-0.05,"v":0.185},{"d":-0.15,"e":-0.05,"v":0.11},{"d":-0.1,"e":-0.05,"v":0.075},{"d":-0.05,"e":-0.05,"v":0.068},{"d":0,"e":-0.05,"v":0.063},{"d":0.05,"e":-0.05,"v":0.06},{"d":0.1,"e":-0.05,"v":0.058},{"d":0.15,"e":-0.05,"v":0.056},{"d":0.2,"e":-0.05,"v":0.055},{"d":0.25,"e":-0.05,"v":0.052},{"d":0.3,"e":-0.05,"v":0.05},{"d":0.35,"e":-0.05,"v":0.045},{"d":0.4,"e":-0.05,"v":0.042},{"d":0.45,"e":-0.05,"v":0.04},{"d":0.5,"e":-0.05,"v":0.038},{"d":0.55,"e":-0.05,"v":0.036},{"d":0.6,"e":-0.05,"v":0.035},{"d":0.65,"e":-0.05,"v":0.034},
{"d":-0.4,"e":-0.1,"v":0.185},{"d":-0.35,"e":-0.1,"v":0.185},{"d":-0.3,"e":-0.1,"v":0.185},{"d":-0.25,"e":-0.1,"v":0.185},{"d":-0.2,"e":-0.1,"v":0.185},{"d":-0.15,"e":-0.1,"v":0.185},{"d":-0.1,"e":-0.1,"v":0.18},{"d":-0.05,"e":-0.1,"v":0.152},{"d":0,"e":-0.1,"v":0.134},{"d":0.05,"e":-0.1,"v":0.125},{"d":0.1,"e":-0.1,"v":0.118},{"d":0.15,"e":-0.1,"v":0.112},{"d":0.2,"e":-0.1,"v":0.105},{"d":0.25,"e":-0.1,"v":0.096},{"d":0.3,"e":-0.1,"v":0.089},{"d":0.35,"e":-0.1,"v":0.082},{"d":0.4,"e":-0.1,"v":0.075},{"d":0.45,"e":-0.1,"v":0.071},{"d":0.5,"e":-0.1,"v":0.066},{"d":0.55,"e":-0.1,"v":0.063},{"d":0.6,"e":-0.1,"v":0.06},{"d":0.65,"e":-0.1,"v":0.056},
{"d":-0.4,"e":-0.15,"v":0.185},{"d":-0.35,"e":-0.15,"v":0.185},{"d":-0.3,"e":-0.15,"v":0.185},{"d":-0.25,"e":-0.15,"v":0.185},{"d":-0.2,"e":-0.15,"v":0.185},{"d":-0.15,"e":-0.15,"v":0.185},{"d":-0.1,"e":-0.15,"v":0.185},{"d":-0.05,"e":-0.15,"v":0.185},{"d":0,"e":-0.15,"v":0.185},{"d":0.05,"e":-0.15,"v":0.185},{"d":0.1,"e":-0.15,"v":0.185},{"d":0.15,"e":-0.15,"v":0.185},{"d":0.2,"e":-0.15,"v":0.185},{"d":0.25,"e":-0.15,"v":0.178},{"d":0.3,"e":-0.15,"v":0.165},{"d":0.35,"e":-0.15,"v":0.153},{"d":0.4,"e":-0.15,"v":0.141},{"d":0.45,"e":-0.15,"v":0.133},{"d":0.5,"e":-0.15,"v":0.125},{"d":0.55,"e":-0.15,"v":0.118},{"d":0.6,"e":-0.15,"v":0.11},{"d":0.65,"e":-0.15,"v":0.104},
{"d":-0.4,"e":-0.2,"v":0.185},{"d":-0.35,"e":-0.2,"v":0.185},{"d":-0.3,"e":-0.2,"v":0.185},{"d":-0.25,"e":-0.2,"v":0.185},{"d":-0.2,"e":-0.2,"v":0.185},{"d":-0.15,"e":-0.2,"v":0.185},{"d":-0.1,"e":-0.2,"v":0.185},{"d":-0.05,"e":-0.2,"v":0.185},{"d":0,"e":-0.2,"v":0.185},{"d":0.05,"e":-0.2,"v":0.185},{"d":0.1,"e":-0.2,"v":0.185},{"d":0.15,"e":-0.2,"v":0.185},{"d":0.2,"e":-0.2,"v":0.185},{"d":0.25,"e":-0.2,"v":0.185},{"d":0.3,"e":-0.2,"v":0.185},{"d":0.35,"e":-0.2,"v":0.185},{"d":0.4,"e":-0.2,"v":0.185},{"d":0.45,"e":-0.2,"v":0.185},{"d":0.5,"e":-0.2,"v":0.185},{"d":0.55,"e":-0.2,"v":0.185},{"d":0.6,"e":-0.2,"v":0.185},{"d":0.65,"e":-0.2,"v":0.185}
 ],
 "fd":[
{"d":-0.3,"e":0.3,"v":0.185},{"d":-0.275,"e":0.3,"v":0.078},{"d":-0.25,"e":0.3,"v":0.046},{"d":-0.225,"e":0.3,"v":0.042},
{"d":-0.3,"e":0.275,"v":0.185},{"d":-0.275,"e":0.275,"v":0.083},{"d":-0.25,"e":0.275,"v":0.046},{"d":-0.225,"e":0.275,"v":0.04},
{"d":-0.3,"e":0.25,"v":0.185},{"d":-0.275,"e":0.25,"v":0.092},{"d":-0.25,"e":0.25,"v":0.048},{"d":-0.225,"e":0.25,"v":0.04},
{"d":-0.3,"e":0.225,"v":0.185},{"d":-0.275,"e":0.225,"v":0.101},{"d":-0.25,"e":0.225,"v":0.051},{"d":-0.225,"e":0.225,"v":0.04},
{"d":-0.3,"e":0.2,"v":0.185},{"d":-0.275,"e":0.2,"v":0.106},{"d":-0.25,"e":0.2,"v":0.05},{"d":-0.225,"e":0.2,"v":0.04},
{"d":-0.3,"e":0.175,"v":0.185},{"d":-0.275,"e":0.175,"v":0.118},{"d":-0.25,"e":0.175,"v":0.052},{"d":-0.225,"e":0.175,"v":0.04},
{"d":-0.3,"e":0.15,"v":0.185},{"d":-0.275,"e":0.15,"v":0.131},{"d":-0.25,"e":0.15,"v":0.055},{"d":-0.225,"e":0.15,"v":0.042},
{"d":-0.3,"e":0.125,"v":0.185},{"d":-0.275,"e":0.125,"v":0.151},{"d":-0.25,"e":0.125,"v":0.065},{"d":-0.225,"e":0.125,"v":0.045},
{"d":-0.3,"e":0.1,"v":0.185},{"d":-0.275,"e":0.1,"v":0.175},{"d":-0.25,"e":0.1,"v":0.078},{"d":-0.225,"e":0.1,"v":0.047},{"d":-0.2,"e":0.1,"v":0.04},
{"d":-0.3,"e":0.075,"v":0.185},{"d":-0.275,"e":0.075,"v":0.185},{"d":-0.25,"e":0.075,"v":0.108},{"d":-0.225,"e":0.075,"v":0.053},{"d":-0.2,"e":0.075,"v":0.044},
{"d":-0.275,"e":0.05,"v":0.185},{"d":-0.25,"e":0.05,"v":0.148},{"d":-0.225,"e":0.05,"v":0.074},{"d":-0.2,"e":0.05,"v":0.047},{"d":-0.175,"e":0.05,"v":0.04},
{"d":-0.275,"e":0.025,"v":0.185},{"d":-0.25,"e":0.025,"v":0.185},{"d":-0.225,"e":0.025,"v":0.115},{"d":-0.2,"e":0.025,"v":0.06},{"d":-0.175,"e":0.025,"v":0.046},{"d":-0.15,"e":0.025,"v":0.04},
{"d":-0.275,"e":0,"v":0.185},{"d":-0.25,"e":0,"v":0.185},{"d":-0.225,"e":0,"v":0.17},{"d":-0.2,"e":0,"v":0.098},{"d":-0.175,"e":0,"v":0.055},{"d":-0.15,"e":0,"v":0.046},{"d":-0.125,"e":0,"v":0.04},
{"d":-0.25,"e":-0.025,"v":0.185},{"d":-0.225,"e":-0.025,"v":0.185},{"d":-0.2,"e":-0.025,"v":0.167},{"d":-0.175,"e":-0.025,"v":0.1},{"d":-0.15,"e":-0.025,"v":0.059},{"d":-0.125,"e":-0.025,"v":0.047},
{"d":-0.225,"e":-0.05,"v":0.185},{"d":-0.2,"e":-0.05,"v":0.185},{"d":-0.175,"e":-0.05,"v":0.17},{"d":-0.15,"e":-0.05,"v":0.11},{"d":-0.125,"e":-0.05,"v":0.068},
{"d":-0.2,"e":-0.075,"v":0.185},{"d":-0.175,"e":-0.075,"v":0.185},{"d":-0.15,"e":-0.075,"v":0.18},{"d":-0.125,"e":-0.075,"v":0.128},
{"d":-0.15,"e":-0.1,"v":0.185},{"d":-0.125,"e":-0.1,"v":0.185},
{"d":-0.1,"e":0,"v":0.035},{"d":-0.075,"e":0,"v":0.039},{"d":-0.05,"e":0,"v":0.0425},{"d":-0.025,"e":0,"v":0.044},{"d":0,"e":0,"v":0.046},{"d":0.025,"e":0,"v":0.047},{"d":0.05,"e":0,"v":0.0475},{"d":0.075,"e":0,"v":0.0475},{"d":0.1,"e":0,"v":0.0475},{"d":0.125,"e":0,"v":0.046},{"d":0.15,"e":0,"v":0.044},{"d":0.175,"e":0,"v":0.042},{"d":0.2,"e":0,"v":0.04},{"d":0.225,"e":0,"v":0.038},{"d":0.25,"e":0,"v":0.036},
{"d":-0.1,"e":-0.025,"v":0.0475},{"d":-0.075,"e":-0.025,"v":0.051},{"d":-0.05,"e":-0.025,"v":0.055},{"d":-0.025,"e":-0.025,"v":0.057},{"d":0,"e":-0.025,"v":0.0585},{"d":0.025,"e":-0.025,"v":0.059},{"d":0.05,"e":-0.025,"v":0.06},{"d":0.075,"e":-0.025,"v":0.06},{"d":0.1,"e":-0.025,"v":0.06},{"d":0.125,"e":-0.025,"v":0.058},{"d":0.15,"e":-0.025,"v":0.0565},{"d":0.175,"e":-0.025,"v":0.0545},{"d":0.2,"e":-0.025,"v":0.0525},{"d":0.225,"e":-0.025,"v":0.0505},{"d":0.25,"e":-0.025,"v":0.0485},{"d":0.275,"e":-0.025,"v":0.047},{"d":0.3,"e":-0.025,"v":0.045},{"d":0.325,"e":-0.025,"v":0.043},{"d":0.35,"e":-0.025,"v":0.0415},{"d":0.375,"e":-0.025,"v":0.04},{"d":0.4,"e":-0.025,"v":0.0385},{"d":0.425,"e":-0.025,"v":0.037},{"d":0.45,"e":-0.025,"v":0.0355},{"d":0.475,"e":-0.025,"v":0.035},{"d":0.5,"e":-0.025,"v":0.035},{"d":0.525,"e":-0.025,"v":0.035},{"d":0.55,"e":-0.025,"v":0.035},{"d":0.575,"e":-0.025,"v":0.035},{"d":0.6,"e":-0.025,"v":0.035},{"d":0.625,"e":-0.025,"v":0.035},{"d":0.65,"e":-0.025,"v":0.035},
{"d":-0.1,"e":-0.05,"v":0.06},{"d":-0.075,"e":-0.05,"v":0.065},{"d":-0.05,"e":-0.05,"v":0.07},{"d":-0.025,"e":-0.05,"v":0.0727},{"d":0,"e":-0.05,"v":0.0744},{"d":0.025,"e":-0.05,"v":0.076},{"d":0.05,"e":-0.05,"v":0.077},{"d":0.075,"e":-0.05,"v":0.077},{"d":0.1,"e":-0.05,"v":0.077},{"d":0.125,"e":-0.05,"v":0.0727},{"d":0.15,"e":-0.05,"v":0.0695},{"d":0.175,"e":-0.05,"v":0.0667},{"d":0.2,"e":-0.05,"v":0.064},{"d":0.225,"e":-0.05,"v":0.0617},{"d":0.25,"e":-0.05,"v":0.0605},{"d":0.275,"e":-0.05,"v":0.059},{"d":0.3,"e":-0.05,"v":0.0575},{"d":0.325,"e":-0.05,"v":0.056},{"d":0.35,"e":-0.05,"v":0.054},{"d":0.375,"e":-0.05,"v":0.0525},{"d":0.4,"e":-0.05,"v":0.051},{"d":0.425,"e":-0.05,"v":0.0495},{"d":0.45,"e":-0.05,"v":0.048},{"d":0.475,"e":-0.05,"v":0.047},{"d":0.5,"e":-0.05,"v":0.046},{"d":0.525,"e":-0.05,"v":0.045},{"d":0.55,"e":-0.05,"v":0.0435},{"d":0.575,"e":-0.05,"v":0.0425},{"d":0.6,"e":-0.05,"v":0.0415},{"d":0.625,"e":-0.05,"v":0.0405},{"d":0.65,"e":-0.05,"v":0.0395},
{"d":-0.1,"e":-0.075,"v":0.104},{"d":-0.075,"e":-0.075,"v":0.104},{"d":-0.05,"e":-0.075,"v":0.104},{"d":-0.025,"e":-0.075,"v":0.106},{"d":0,"e":-0.075,"v":0.106},{"d":0.025,"e":-0.075,"v":0.107},{"d":0.05,"e":-0.075,"v":0.108},{"d":0.075,"e":-0.075,"v":0.107},{"d":0.1,"e":-0.075,"v":0.106},{"d":0.125,"e":-0.075,"v":0.1007},{"d":0.15,"e":-0.075,"v":0.096},{"d":0.175,"e":-0.075,"v":0.09},{"d":0.2,"e":-0.075,"v":0.086},{"d":0.225,"e":-0.075,"v":0.081},{"d":0.25,"e":-0.075,"v":0.076},{"d":0.275,"e":-0.075,"v":0.0727},{"d":0.3,"e":-0.075,"v":0.0695},{"d":0.325,"e":-0.075,"v":0.067},{"d":0.35,"e":-0.075,"v":0.0648},{"d":0.375,"e":-0.075,"v":0.063},{"d":0.4,"e":-0.075,"v":0.0618},{"d":0.425,"e":-0.075,"v":0.061},{"d":0.45,"e":-0.075,"v":0.06},{"d":0.475,"e":-0.075,"v":0.0595},{"d":0.5,"e":-0.075,"v":0.0585},{"d":0.525,"e":-0.075,"v":0.057},{"d":0.55,"e":-0.075,"v":0.056},{"d":0.575,"e":-0.075,"v":0.055},{"d":0.6,"e":-0.075,"v":0.054},{"d":0.625,"e":-0.075,"v":0.053},{"d":0.65,"e":-0.075,"v":0.052},
{"d":-0.1,"e":-0.1,"v":0.18},{"d":-0.075,"e":-0.1,"v":0.165},{"d":-0.05,"e":-0.1,"v":0.153},{"d":-0.025,"e":-0.1,"v":0.15},{"d":0,"e":-0.1,"v":0.147},{"d":0.025,"e":-0.1,"v":0.147},{"d":0.05,"e":-0.1,"v":0.147},{"d":0.075,"e":-0.1,"v":0.146},{"d":0.1,"e":-0.1,"v":0.145},{"d":0.125,"e":-0.1,"v":0.138},{"d":0.15,"e":-0.1,"v":0.132},{"d":0.175,"e":-0.1,"v":0.125},{"d":0.2,"e":-0.1,"v":0.118},{"d":0.225,"e":-0.1,"v":0.111},{"d":0.25,"e":-0.1,"v":0.104},{"d":0.275,"e":-0.1,"v":0.098},{"d":0.3,"e":-0.1,"v":0.0935},{"d":0.325,"e":-0.1,"v":0.088},{"d":0.35,"e":-0.1,"v":0.084},{"d":0.375,"e":-0.1,"v":0.081},{"d":0.4,"e":-0.1,"v":0.078},{"d":0.425,"e":-0.1,"v":0.075},{"d":0.45,"e":-0.1,"v":0.0735},{"d":0.475,"e":-0.1,"v":0.072},{"d":0.5,"e":-0.1,"v":0.0703},{"d":0.525,"e":-0.1,"v":0.0688},{"d":0.55,"e":-0.1,"v":0.067},{"d":0.575,"e":-0.1,"v":0.066},{"d":0.6,"e":-0.1,"v":0.0648},{"d":0.625,"e":-0.1,"v":0.0636},{"d":0.65,"e":-0.1,"v":0.0628},
{"d":-0.1,"e":-0.125,"v":0.185},{"d":-0.075,"e":-0.125,"v":0.185},{"d":-0.05,"e":-0.125,"v":0.185},{"d":-0.025,"e":-0.125,"v":0.185},{"d":0,"e":-0.125,"v":0.18},{"d":0.025,"e":-0.125,"v":0.18},{"d":0.05,"e":-0.125,"v":0.18},{"d":0.075,"e":-0.125,"v":0.18},{"d":0.1,"e":-0.125,"v":0.18},{"d":0.125,"e":-0.125,"v":0.178},{"d":0.15,"e":-0.125,"v":0.175},{"d":0.175,"e":-0.125,"v":0.1665},{"d":0.2,"e":-0.125,"v":0.157},{"d":0.225,"e":-0.125,"v":0.148},{"d":0.25,"e":-0.125,"v":0.139},{"d":0.275,"e":-0.125,"v":0.132},{"d":0.3,"e":-0.125,"v":0.1245},{"d":0.325,"e":-0.125,"v":0.1175},{"d":0.35,"e":-0.125,"v":0.111},{"d":0.375,"e":-0.125,"v":0.107},{"d":0.4,"e":-0.125,"v":0.103},{"d":0.425,"e":-0.125,"v":0.099},{"d":0.45,"e":-0.125,"v":0.096},{"d":0.475,"e":-0.125,"v":0.094},{"d":0.5,"e":-0.125,"v":0.092},{"d":0.525,"e":-0.125,"v":0.09},{"d":0.55,"e":-0.125,"v":0.0875},{"d":0.575,"e":-0.125,"v":0.086},{"d":0.6,"e":-0.125,"v":0.084},{"d":0.625,"e":-0.125,"v":0.0825},{"d":0.65,"e":-0.125,"v":0.081},
{"d":0.125,"e":-0.15,"v":0.185},{"d":0.15,"e":-0.15,"v":0.185},{"d":0.175,"e":-0.15,"v":0.185},{"d":0.2,"e":-0.15,"v":0.185},{"d":0.225,"e":-0.15,"v":0.18},{"d":0.25,"e":-0.15,"v":0.178},{"d":0.275,"e":-0.15,"v":0.171},{"d":0.3,"e":-0.15,"v":0.162},{"d":0.325,"e":-0.15,"v":0.153},{"d":0.35,"e":-0.15,"v":0.145},{"d":0.375,"e":-0.15,"v":0.139},{"d":0.4,"e":-0.15,"v":0.134},{"d":0.425,"e":-0.15,"v":0.13},{"d":0.45,"e":-0.15,"v":0.126},{"d":0.475,"e":-0.15,"v":0.123},{"d":0.5,"e":-0.15,"v":0.121},{"d":0.525,"e":-0.15,"v":0.118},{"d":0.55,"e":-0.15,"v":0.1155},{"d":0.575,"e":-0.15,"v":0.1135},{"d":0.6,"e":-0.15,"v":0.111},{"d":0.625,"e":-0.15,"v":0.109},{"d":0.65,"e":-0.15,"v":0.107},
{"d":0.3,"e":-0.175,"v":0.185},{"d":0.325,"e":-0.175,"v":0.18},{"d":0.35,"e":-0.175,"v":0.178},{"d":0.375,"e":-0.175,"v":0.176},{"d":0.4,"e":-0.175,"v":0.17},{"d":0.425,"e":-0.175,"v":0.1655},{"d":0.45,"e":-0.175,"v":0.161},{"d":0.475,"e":-0.175,"v":0.158},{"d":0.5,"e":-0.175,"v":0.155},{"d":0.525,"e":-0.175,"v":0.152},{"d":0.55,"e":-0.175,"v":0.149},{"d":0.575,"e":-0.175,"v":0.147},{"d":0.6,"e":-0.175,"v":0.145},{"d":0.625,"e":-0.175,"v":0.142},{"d":0.65,"e":-0.175,"v":0.14}
 ]
},
"columns":2,
"spacing":{"row":48,"column":56},
"bounds":"flush",
"resolve":{"scale":{"color":"independent","shape":"independent","x":"independent","y":"independent"},"legend":{"color":"independent","shape":"independent"}},
"concat":[
  {"width":420,"height":320,"title":{"text":"Joint P- and SV-wave","offset":4},"view":{"stroke":"#777"},
   "resolve":{"axis":{"x":"independent","y":"independent"}},
   "layer":[
    {"data":{"name":"blk"},"mark":{"type":"line","color":"#2b2b2b","strokeWidth":1.2},
     "encoding":{"x":{"field":"x","type":"quantitative","scale":{"domain":[0,90],"nice":false},"axis":{"title":"Polarization Polar Angle","titleFontSize":12,"titleX":177,"titleAlign":"center","values":[0,10,20,30,40,50,60,70,80,90],"tickSize":-4,"domain":false,"labelPadding":4,"titlePadding":6}},
      "y":{"field":"y","type":"quantitative","scale":{"domain":[0,6],"nice":false},"axis":{"title":"Vertical Slowness: q (sec/m)","titleFontSize":11.5,"values":[0,1,2,3,4,5,6],"tickSize":-4,"domain":false,"labelPadding":4,"titlePadding":11}},
      "detail":{"field":"s"}}},
    {"data":{"name":"sf"},"mark":{"type":"line","color":"#3d4fb3","strokeWidth":1.3,"strokeDash":[9,5]},"encoding":{"x":{"field":"x","type":"quantitative","axis":null},"y":{"field":"y","type":"quantitative","axis":null}}},
    {"data":{"name":"pfa"},"mark":{"type":"line","color":"#e5362c","strokeWidth":1.3,"strokeDash":[7,5]},"encoding":{"x":{"field":"x","type":"quantitative","axis":null},"y":{"field":"y","type":"quantitative","axis":null}}},
    {"data":{"name":"rpa"},"mark":{"type":"point","shape":"M-1,0L1,0M0,-1L0,1","filled":false,"color":"#e5362c","size":40,"strokeWidth":1.1},"encoding":{"x":{"field":"x","type":"quantitative","axis":null},"y":{"field":"y","type":"quantitative","axis":null}}},
    {"data":{"name":"bc"},"mark":{"type":"point","shape":"circle","filled":false,"color":"#3d4fb3","size":38,"strokeWidth":1.2},"encoding":{"x":{"field":"x","type":"quantitative","axis":null},"y":{"field":"y","type":"quantitative","axis":null}}},
    {"data":{"name":"la"},"mark":{"type":"text","font":"DejaVu Serif","fontSize":23,"color":"#222","align":"center","baseline":"middle"},"encoding":{"x":{"field":"x","type":"quantitative","axis":null},"y":{"field":"y","type":"quantitative","axis":null},"text":{"field":"t"}}},
    {"data":{"name":"ex"},"mark":{"type":"text","fontSize":7.5,"color":"#444","align":"left","baseline":"middle","dx":2,"dy":-8},"encoding":{"x":{"field":"x","type":"quantitative","axis":{"orient":"top","labels":false,"title":null,"tickSize":-4,"domain":false,"values":[0,10,20,30,40,50,60,70,80,90]}},"y":{"field":"y","type":"quantitative","axis":{"orient":"right","labels":false,"title":null,"tickSize":-4,"domain":false,"values":[0,1,2,3,4,5,6]}},"text":{"field":"t"}}}
   ]},
  {"width":420,"height":320,"title":{"text":"P-wave Only","offset":4},"view":{"stroke":"#777"},
   "resolve":{"axis":{"x":"independent","y":"independent"}},
   "layer":[
    {"data":{"name":"blk"},"mark":{"type":"line","color":"#2b2b2b","strokeWidth":1.2},
     "encoding":{"x":{"field":"x","type":"quantitative","scale":{"domain":[0,90],"nice":false},"axis":{"title":"Polarization Polar Angle","titleFontSize":12,"titleX":177,"titleAlign":"center","values":[0,10,20,30,40,50,60,70,80,90],"tickSize":-4,"domain":false,"labelPadding":4,"titlePadding":6}},
      "y":{"field":"y","type":"quantitative","scale":{"domain":[0,6],"nice":false},"axis":{"title":"Vertical Slowness: q (sec/m)","titleFontSize":11.5,"values":[0,1,2,3,4,5,6],"tickSize":-4,"domain":false,"labelPadding":4,"titlePadding":11}},
      "detail":{"field":"s"}}},
    {"data":{"name":"sf"},"mark":{"type":"line","color":"#3d4fb3","strokeWidth":1.3,"strokeDash":[9,5]},"encoding":{"x":{"field":"x","type":"quantitative","axis":null},"y":{"field":"y","type":"quantitative","axis":null}}},
    {"data":{"name":"pfb"},"mark":{"type":"line","color":"#e5362c","strokeWidth":1.3,"strokeDash":[7,5]},"encoding":{"x":{"field":"x","type":"quantitative","axis":null},"y":{"field":"y","type":"quantitative","axis":null}}},
    {"data":{"name":"rpb"},"mark":{"type":"point","shape":"M-1,-1L1,1M-1,1L1,-1","filled":false,"color":"#e5362c","size":30,"strokeWidth":1.1},"encoding":{"x":{"field":"x","type":"quantitative","axis":null},"y":{"field":"y","type":"quantitative","axis":null}}},
    {"data":{"name":"bc"},"mark":{"type":"point","shape":"circle","filled":false,"color":"#3d4fb3","size":38,"strokeWidth":1.2},"encoding":{"x":{"field":"x","type":"quantitative","axis":null},"y":{"field":"y","type":"quantitative","axis":null}}},
    {"data":{"name":"lb"},"mark":{"type":"text","font":"DejaVu Serif","fontSize":23,"color":"#222","align":"center","baseline":"middle"},"encoding":{"x":{"field":"x","type":"quantitative","axis":null},"y":{"field":"y","type":"quantitative","axis":null},"text":{"field":"t"}}},
    {"data":{"name":"ex"},"mark":{"type":"text","fontSize":7.5,"color":"#444","align":"left","baseline":"middle","dx":2,"dy":-8},"encoding":{"x":{"field":"x","type":"quantitative","axis":{"orient":"top","labels":false,"title":null,"tickSize":-4,"domain":false,"values":[0,10,20,30,40,50,60,70,80,90]}},"y":{"field":"y","type":"quantitative","axis":{"orient":"right","labels":false,"title":null,"tickSize":-4,"domain":false,"values":[0,1,2,3,4,5,6]}},"text":{"field":"t"}}}
   ]},
  {"width":410,"height":201,"view":{"stroke":null},
   "layer":[
    {"data":{"name":"hc"},"mark":{"type":"square","size":400,"opacity":1,"strokeWidth":0,"clip":true},
     "encoding":{
      "x":{"field":"d","type":"quantitative","scale":{"domain":[-0.418,0.644],"nice":false,"zero":false},"axis":{"title":"δ","titleFont":"DejaVu Serif","titleFontSize":26,"titleY":33,"titleBaseline":"middle","values":[-0.4,-0.2,0,0.2,0.4,0.6],"format":".1~f","domain":false,"ticks":false,"labelPadding":3}},
      "y":{"field":"e","type":"quantitative","scale":{"domain":[-0.216,0.318],"nice":false,"zero":false},"axis":{"title":"η","titleFont":"DejaVu Serif","titleFontSize":30,"titleAngle":0,"titleX":-38,"titleY":100,"titleAlign":"center","titleBaseline":"middle","values":[-0.2,-0.1,0,0.1,0.2,0.3],"format":".1~f","domain":false,"ticks":false,"labelPadding":2}},
      "color":{"field":"v","type":"quantitative","scale":{"domain":[0,0.015,0.035,0.048,0.056,0.066,0.08,0.095,0.108,0.122,0.136,0.15,0.165,0.175,0.185],"range":["#2c2a7c","#22459b","#1f5cb0","#1f7fcc","#1fb2e6","#86d0d6","#8fc777","#b9d33e","#f2e41c","#f6b324","#f2771f","#e6421f","#c9281c","#6e2016","#6b1f15"]},
       "legend":{"orient":"right","offset":8,"padding":3,"title":null,"gradientLength":196,"gradientThickness":22,"values":[0,0.02,0.04,0.06,0.08,0.1,0.12,0.14,0.16],"format":".2~f","labelFontSize":10,"labelColor":"#222","gradientStrokeColor":"#333","gradientStrokeWidth":1}}}},
    {"data":{"name":"fc"},"mark":{"type":"square","size":104,"opacity":1,"strokeWidth":0,"clip":true},
     "encoding":{"x":{"field":"d","type":"quantitative"},"y":{"field":"e","type":"quantitative"},"color":{"field":"v","type":"quantitative"}}},
    {"data":{"name":"mc"},"mark":{"type":"point","filled":false,"color":"#e9b9c2","strokeWidth":1.3,"size":110},
     "encoding":{"x":{"field":"d","type":"quantitative"},"y":{"field":"e","type":"quantitative"},
      "shape":{"field":"k","type":"nominal","scale":{"domain":["Real/Expected Values","Estimated Values"],"range":["circle","M-1,-1L1,1M-1,1L1,-1"]},"legend":{"orient":"bottom-left","title":null,"labelColor":"#3a1a14","labelFontSize":10,"offset":6,"symbolOffset":16,"labelOffset":12,"symbolStrokeColor":"#e9b9c2","symbolStrokeWidth":1.3,"symbolSize":110,"rowPadding":2}}}},
    {"data":{"name":"lc"},"mark":{"type":"text","font":"DejaVu Serif","fontSize":22,"color":"white","align":"center","baseline":"middle"},"encoding":{"x":{"field":"d","type":"quantitative"},"y":{"field":"e","type":"quantitative"},"text":{"field":"t"}}}
   ]},
  {"width":426,"height":201,"view":{"stroke":null},
   "layer":[
    {"data":{"name":"hd"},"mark":{"type":"square","size":400,"opacity":1,"strokeWidth":0,"clip":true},
     "encoding":{
      "x":{"field":"d","type":"quantitative","scale":{"domain":[-0.457,0.652],"nice":false,"zero":false},"axis":{"title":"δ","titleFont":"DejaVu Serif","titleFontSize":26,"titleY":33,"titleX":220,"titleAlign":"center","titleBaseline":"middle","values":[-0.4,-0.2,0,0.2,0.4,0.6],"format":".1~f","domain":false,"ticks":false,"labelPadding":3}},
      "y":{"field":"e","type":"quantitative","scale":{"domain":[-0.216,0.318],"nice":false,"zero":false},"axis":null},
      "color":{"field":"v","type":"quantitative","scale":{"domain":[0,0.015,0.035,0.048,0.056,0.066,0.08,0.095,0.108,0.122,0.136,0.15,0.165,0.175,0.185],"range":["#2c2a7c","#22459b","#1f5cb0","#1f7fcc","#1fb2e6","#86d0d6","#8fc777","#b9d33e","#f2e41c","#f6b324","#f2771f","#e6421f","#c9281c","#6e2016","#6b1f15"]},"legend":null}}},
    {"data":{"name":"fd"},"mark":{"type":"square","size":104,"opacity":1,"strokeWidth":0,"clip":true},
     "encoding":{"x":{"field":"d","type":"quantitative"},"y":{"field":"e","type":"quantitative"},"color":{"field":"v","type":"quantitative","legend":null}}},
    {"data":{"name":"md"},"mark":{"type":"point","filled":false,"color":"#e9b9c2","strokeWidth":1.3,"size":110},
     "encoding":{"x":{"field":"d","type":"quantitative"},"y":{"field":"e","type":"quantitative"},
      "shape":{"field":"k","type":"nominal","scale":{"domain":["Real/Expected Values","Estimated Values"],"range":["circle","M-1,-1L1,1M-1,1L1,-1"]},"legend":{"orient":"bottom-left","title":null,"labelColor":"#3a1a14","labelFontSize":10,"offset":6,"symbolOffset":16,"labelOffset":12,"symbolStrokeColor":"#e9b9c2","symbolStrokeWidth":1.3,"symbolSize":110,"rowPadding":2}}}},
    {"data":{"name":"ld"},"mark":{"type":"text","font":"DejaVu Serif","fontSize":22,"color":"#e8e8f4","align":"center","baseline":"middle"},"encoding":{"x":{"field":"d","type":"quantitative"},"y":{"field":"e","type":"quantitative"},"text":{"field":"t"}}}
   ]}
]
}
